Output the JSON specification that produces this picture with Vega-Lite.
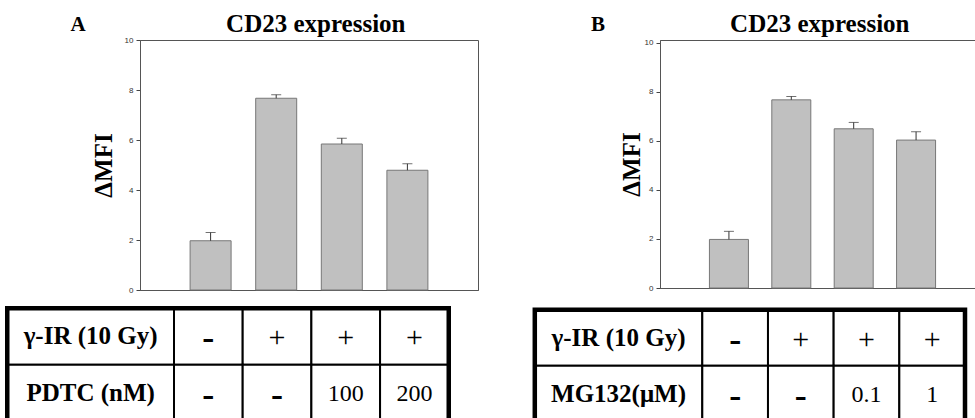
{
  "$schema": "https://vega.github.io/schema/vega-lite/v6.json",
  "background": "white",
  "padding": {"left": 4, "top": 10, "right": -8, "bottom": -4},
  "spacing": 53,
  "config": {
    "view": {"stroke": "#555", "strokeWidth": 1},
    "axis": {"labelFont": "Liberation Sans", "labelFontSize": 8, "labelColor": "#333", "tickColor": "#444", "domainColor": "#555", "grid": false, "tickSize": 4, "labelPadding": 3}
  },
  "hconcat": [
    {
      "width": 338,
      "height": 250,
      "resolve": {"scale": {"x": "independent", "y": "independent"}},
      "layer": [
        {
          "data": {"values": [
            {"treatment": 1, "mfi": 1.97, "upper": 2.30},
            {"treatment": 2, "mfi": 7.67, "upper": 7.81},
            {"treatment": 3, "mfi": 5.84, "upper": 6.07},
            {"treatment": 4, "mfi": 4.79, "upper": 5.05}
          ]},
          "layer": [
            {
              "mark": {"type": "bar", "orient": "vertical", "size": 41, "fill": "#c0c0c0", "stroke": "#777", "strokeWidth": 1},
              "encoding": {
                "x": {"field": "treatment", "type": "quantitative", "scale": {"domain": [0, 5], "nice": false, "zero": false}, "axis": {"title": null, "labels": false, "ticks": false, "domain": true}},
                "y": {"field": "mfi", "type": "quantitative", "scale": {"domain": [0, 10], "nice": false}, "axis": {"title": "ΔMFI", "values": [0, 2, 4, 6, 8, 10], "titleFont": "Liberation Serif, Times New Roman, serif", "titleFontSize": 25, "titleFontWeight": "bold", "titleColor": "#000", "titlePadding": 8}}
              }
            },
            {
              "mark": {"type": "rule", "color": "#333", "strokeWidth": 1},
              "encoding": {
                "x": {"field": "treatment", "type": "quantitative"},
                "y": {"field": "mfi", "type": "quantitative"},
                "y2": {"field": "upper"}
              }
            },
            {
              "mark": {"type": "tick", "orient": "horizontal", "size": 10, "thickness": 1, "color": "#333"},
              "encoding": {
                "x": {"field": "treatment", "type": "quantitative"},
                "y": {"field": "upper", "type": "quantitative"}
              }
            },
            {
              "data": {"values": [{"panel": "A"}]},
              "mark": {"type": "text", "font": "Liberation Serif, Times New Roman, serif", "fontSize": 21, "fontWeight": "bold", "align": "center", "baseline": "alphabetic", "color": "#000"},
              "encoding": {
                "text": {"field": "panel"},
                "x": {"datum": -1.02, "type": "quantitative"},
                "y": {"datum": 10.36, "type": "quantitative"}
              }
            },
            {
              "data": {"values": [{"heading": "CD23 expression"}]},
              "mark": {"type": "text", "font": "Liberation Serif, Times New Roman, serif", "fontSize": 25, "fontWeight": "bold", "align": "center", "baseline": "alphabetic", "color": "#000"},
              "encoding": {
                "text": {"field": "heading"},
                "x": {"datum": 2.604, "type": "quantitative"},
                "y": {"datum": 10.34, "type": "quantitative"}
              }
            }
          ]
        },
        {
          "data": {"values": [{"row": "γ-IR (10 Gy)"}, {"row": "PDTC (nM)"}]},
          "encoding": {
            "y": {"field": "row", "type": "nominal", "sort": null, "scale": {"type": "band", "domain": ["γ-IR (10 Gy)", "PDTC (nM)"], "range": [268.25, 381.15], "paddingInner": 0, "paddingOuter": 0}, "axis": null}
          },
          "layer": [
            {
              "mark": {"type": "rect", "fill": "white", "stroke": "black", "strokeWidth": 2},
              "encoding": {
                "x": {"datum": 0, "type": "quantitative", "scale": {"domain": [0, 1], "range": [-132.75, 34], "nice": false, "zero": false}, "axis": null},
                "x2": {"datum": 1}
              }
            },
            {
              "mark": {"type": "text", "font": "Liberation Serif, Times New Roman, serif", "fontSize": 25, "fontWeight": "bold", "align": "center", "baseline": "middle", "color": "#000"},
              "encoding": {
                "x": {"datum": 0.5, "type": "quantitative"},
                "text": {"field": "row"}
              }
            }
          ]
        },
        {
          "data": {"values": [
            {"row": "γ-IR (10 Gy)", "col": "1", "v": "-"},
            {"row": "γ-IR (10 Gy)", "col": "2", "v": "+"},
            {"row": "γ-IR (10 Gy)", "col": "3", "v": "+"},
            {"row": "γ-IR (10 Gy)", "col": "4", "v": "+"},
            {"row": "PDTC (nM)", "col": "1", "v": "-"},
            {"row": "PDTC (nM)", "col": "2", "v": "-"},
            {"row": "PDTC (nM)", "col": "3", "v": "100"},
            {"row": "PDTC (nM)", "col": "4", "v": "200"}
          ]},
          "encoding": {
            "x": {"field": "col", "type": "nominal", "sort": null, "scale": {"type": "band", "domain": ["1", "2", "3", "4"], "range": [34, 308.75], "paddingInner": 0, "paddingOuter": 0}, "axis": null},
            "y": {"field": "row", "type": "nominal", "sort": null, "scale": {"type": "band", "domain": ["γ-IR (10 Gy)", "PDTC (nM)"], "range": [268.25, 381.15], "paddingInner": 0, "paddingOuter": 0}, "axis": null}
          },
          "layer": [
            {"mark": {"type": "rect", "fill": "white", "stroke": "black", "strokeWidth": 2}},
            {
              "transform": [{"filter": "datum.v == '-'"}],
              "mark": {"type": "text", "font": "Liberation Serif, Times New Roman, serif", "fontSize": 36, "fontWeight": "bold", "align": "center", "baseline": "middle", "dy": 2, "color": "#000"},
              "encoding": {"text": {"field": "v"}}
            },
            {
              "transform": [{"filter": "datum.v == '+'"}],
              "mark": {"type": "text", "font": "Liberation Serif, Times New Roman, serif", "fontSize": 30, "fontWeight": "normal", "align": "center", "baseline": "middle", "dy": 2, "color": "#000"},
              "encoding": {"text": {"field": "v"}}
            },
            {
              "transform": [{"filter": "datum.v != '-' && datum.v != '+'"}],
              "mark": {"type": "text", "font": "Liberation Serif, Times New Roman, serif", "fontSize": 24, "fontWeight": "normal", "align": "center", "baseline": "middle", "dy": 1, "color": "#000"},
              "encoding": {"text": {"field": "v"}}
            }
          ]
        },
        {
          "data": {"values": [{}]},
          "mark": {"type": "rect", "filled": false, "stroke": "black", "strokeWidth": 4.5},
          "encoding": {
            "x": {"datum": 0, "type": "quantitative", "scale": {"domain": [0, 1], "range": [-132.75, 308.75], "nice": false, "zero": false}, "axis": null},
            "x2": {"datum": 1},
            "y": {"datum": 0, "type": "quantitative", "scale": {"domain": [0, 1], "range": [268.25, 381.15], "nice": false, "zero": false}, "axis": null},
            "y2": {"datum": 1}
          }
        }
      ]
    },
    {
      "width": 325,
      "height": 248,
      "resolve": {"scale": {"x": "independent", "y": "independent"}},
      "layer": [
        {
          "data": {"values": [
            {"treatment": 1, "mfi": 1.98, "upper": 2.31},
            {"treatment": 2, "mfi": 7.67, "upper": 7.81},
            {"treatment": 3, "mfi": 6.49, "upper": 6.75},
            {"treatment": 4, "mfi": 6.03, "upper": 6.37}
          ]},
          "layer": [
            {
              "mark": {"type": "bar", "orient": "vertical", "size": 39, "fill": "#c0c0c0", "stroke": "#777", "strokeWidth": 1},
              "encoding": {
                "x": {"field": "treatment", "type": "quantitative", "scale": {"domain": [-0.025, 5.025], "nice": false, "zero": false}, "axis": {"title": null, "labels": false, "ticks": false, "domain": true}},
                "y": {"field": "mfi", "type": "quantitative", "scale": {"domain": [0, 10.11], "nice": false}, "axis": {"title": "ΔMFI", "values": [0, 2, 4, 6, 8, 10], "titleFont": "Liberation Serif, Times New Roman, serif", "titleFontSize": 25, "titleFontWeight": "bold", "titleColor": "#000", "titlePadding": 0}}
              }
            },
            {
              "mark": {"type": "rule", "color": "#333", "strokeWidth": 1},
              "encoding": {
                "x": {"field": "treatment", "type": "quantitative"},
                "y": {"field": "mfi", "type": "quantitative"},
                "y2": {"field": "upper"}
              }
            },
            {
              "mark": {"type": "tick", "orient": "horizontal", "size": 10, "thickness": 1, "color": "#333"},
              "encoding": {
                "x": {"field": "treatment", "type": "quantitative"},
                "y": {"field": "upper", "type": "quantitative"}
              }
            },
            {
              "data": {"values": [{"panel": "B"}]},
              "mark": {"type": "text", "font": "Liberation Serif, Times New Roman, serif", "fontSize": 21, "fontWeight": "bold", "align": "center", "baseline": "alphabetic", "color": "#000"},
              "encoding": {
                "text": {"field": "panel"},
                "x": {"datum": -1.1, "type": "quantitative"},
                "y": {"datum": 10.477, "type": "quantitative"}
              }
            },
            {
              "data": {"values": [{"heading": "CD23 expression"}]},
              "mark": {"type": "text", "font": "Liberation Serif, Times New Roman, serif", "fontSize": 25, "fontWeight": "bold", "align": "center", "baseline": "alphabetic", "color": "#000"},
              "encoding": {
                "text": {"field": "heading"},
                "x": {"datum": 2.457, "type": "quantitative"},
                "y": {"datum": 10.4565, "type": "quantitative"}
              }
            }
          ]
        },
        {
          "data": {"values": [{"row": "γ-IR (10 Gy)"}, {"row": "MG132(μM)"}]},
          "encoding": {
            "y": {"field": "row", "type": "nominal", "sort": null, "scale": {"type": "band", "domain": ["γ-IR (10 Gy)", "MG132(μM)"], "range": [269.8, 381.6], "paddingInner": 0, "paddingOuter": 0}, "axis": null}
          },
          "layer": [
            {
              "mark": {"type": "rect", "fill": "white", "stroke": "black", "strokeWidth": 2},
              "encoding": {
                "x": {"datum": 0, "type": "quantitative", "scale": {"domain": [0, 1], "range": [-125.2, 42.3], "nice": false, "zero": false}, "axis": null},
                "x2": {"datum": 1}
              }
            },
            {
              "mark": {"type": "text", "font": "Liberation Serif, Times New Roman, serif", "fontSize": 25, "fontWeight": "bold", "align": "center", "baseline": "middle", "color": "#000"},
              "encoding": {
                "x": {"datum": 0.5, "type": "quantitative"},
                "text": {"field": "row"}
              }
            }
          ]
        },
        {
          "data": {"values": [
            {"row": "γ-IR (10 Gy)", "col": "1", "v": "-"},
            {"row": "γ-IR (10 Gy)", "col": "2", "v": "+"},
            {"row": "γ-IR (10 Gy)", "col": "3", "v": "+"},
            {"row": "γ-IR (10 Gy)", "col": "4", "v": "+"},
            {"row": "MG132(μM)", "col": "1", "v": "-"},
            {"row": "MG132(μM)", "col": "2", "v": "-"},
            {"row": "MG132(μM)", "col": "3", "v": "0.1"},
            {"row": "MG132(μM)", "col": "4", "v": "1"}
          ]},
          "encoding": {
            "x": {"field": "col", "type": "nominal", "sort": null, "scale": {"type": "band", "domain": ["1", "2", "3", "4"], "range": [42.3, 305], "paddingInner": 0, "paddingOuter": 0}, "axis": null},
            "y": {"field": "row", "type": "nominal", "sort": null, "scale": {"type": "band", "domain": ["γ-IR (10 Gy)", "MG132(μM)"], "range": [269.8, 381.6], "paddingInner": 0, "paddingOuter": 0}, "axis": null}
          },
          "layer": [
            {"mark": {"type": "rect", "fill": "white", "stroke": "black", "strokeWidth": 2}},
            {
              "transform": [{"filter": "datum.v == '-'"}],
              "mark": {"type": "text", "font": "Liberation Serif, Times New Roman, serif", "fontSize": 36, "fontWeight": "bold", "align": "center", "baseline": "middle", "dy": 2, "color": "#000"},
              "encoding": {"text": {"field": "v"}}
            },
            {
              "transform": [{"filter": "datum.v == '+'"}],
              "mark": {"type": "text", "font": "Liberation Serif, Times New Roman, serif", "fontSize": 30, "fontWeight": "normal", "align": "center", "baseline": "middle", "dy": 2, "color": "#000"},
              "encoding": {"text": {"field": "v"}}
            },
            {
              "transform": [{"filter": "datum.v != '-' && datum.v != '+'"}],
              "mark": {"type": "text", "font": "Liberation Serif, Times New Roman, serif", "fontSize": 24, "fontWeight": "normal", "align": "center", "baseline": "middle", "dy": 1, "color": "#000"},
              "encoding": {"text": {"field": "v"}}
            }
          ]
        },
        {
          "data": {"values": [{}]},
          "mark": {"type": "rect", "filled": false, "stroke": "black", "strokeWidth": 4.5},
          "encoding": {
            "x": {"datum": 0, "type": "quantitative", "scale": {"domain": [0, 1], "range": [-125.2, 305], "nice": false, "zero": false}, "axis": null},
            "x2": {"datum": 1},
            "y": {"datum": 0, "type": "quantitative", "scale": {"domain": [0, 1], "range": [269.8, 381.6], "nice": false, "zero": false}, "axis": null},
            "y2": {"datum": 1}
          }
        }
      ]
    }
  ]
}
